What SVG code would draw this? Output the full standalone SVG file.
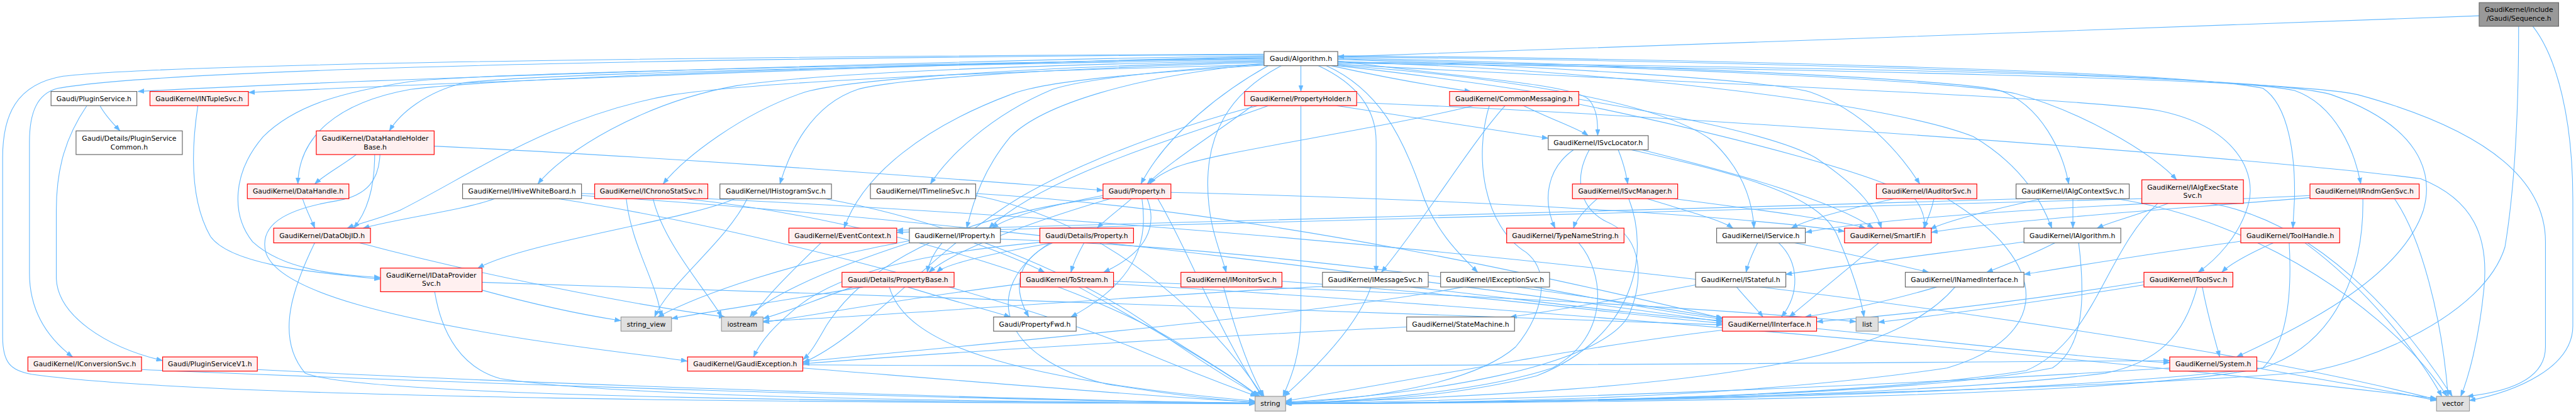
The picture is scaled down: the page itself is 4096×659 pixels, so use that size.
<svg xmlns="http://www.w3.org/2000/svg" width="4096" height="659" viewBox="0 0 4096 659">
<defs>
<marker id="arr" markerUnits="userSpaceOnUse" viewBox="0 0 12 9" markerWidth="12" markerHeight="9" refX="12" refY="4.5" orient="auto"><path d="M0,0 L12,4.5 L0,9 z" fill="#63b8ff" stroke="#63b8ff" stroke-width="0.5"/></marker>
<style>
.w rect{fill:#ffffff;stroke:#666666;stroke-width:1.4}
.r rect{fill:#fff0f0;stroke:#ff0000;stroke-width:1.4}
.g rect{fill:#e0e0e0;stroke:#999999;stroke-width:1.4}
.root rect{fill:#999999;stroke:#666666;stroke-width:1.4}
text{font-family:"DejaVu Sans","Liberation Sans",sans-serif;font-size:13px;text-anchor:middle;fill:#000000}
#edges path{fill:none;stroke:#63b8ff;stroke-width:1.3;marker-end:url(#arr)}
</style>
</defs>
<rect x="0" y="0" width="4096" height="659" fill="#ffffff"/>
<g transform="scale(0.83677)">
<g id="edges">
<path d="M4711,30 C4200,50 3200,85 2542,108"/>
<path d="M4813,50 C4860,110 4889,230 4889,380 L4889,620 C4889,700 4780,745 4692,762"/>
<path d="M4786,50 C4786,200 4780,350 4760,470 C4720,600 4500,690 4380,708 C4000,740 3000,766 2443,768"/>
<path d="M2402,106 C1800,115 700,150 262,174"/>
<path d="M2402,108 C1900,118 900,155 472,176"/>
<path d="M2402,104 C1600,108 350,125 110,168 C70,178 56,215 56,270 L56,520 C56,600 100,650 138,679"/>
<path d="M2402,103 C1600,106 350,118 120,145 C30,160 5,220 5,300 L5,640 C5,690 20,705 60,712 C400,760 1600,766 2385,768"/>
<path d="M2402,110 C1700,122 950,148 780,170 C640,195 568,260 566,350"/>
<path d="M2402,113 C1700,125 1000,140 880,158 C810,175 760,215 740,249"/>
<path d="M2402,123 C1900,135 1450,155 1280,180 C1050,220 900,330 760,400 C710,420 680,425 660,434"/>
<path d="M2402,111 C1700,122 900,140 780,155 C650,175 560,200 500,260 C440,330 440,410 480,460 C540,515 640,522 723,528"/>
<path d="M2402,115 C1900,125 1550,140 1400,163 C1220,195 1070,290 1022,350"/>
<path d="M2402,117 C1950,128 1620,150 1530,175 C1410,215 1300,300 1260,350"/>
<path d="M2402,119 C2000,130 1700,150 1630,170 C1540,200 1500,290 1482,350"/>
<path d="M2402,121 C2200,135 2060,150 2000,170 C1880,220 1800,300 1768,350"/>
<path d="M2402,124 C2150,140 1980,155 1920,180 C1760,240 1640,330 1604,434"/>
<path d="M2410,125 C2330,170 2220,250 2168,350"/>
<path d="M2435,125 C2330,180 2295,260 2295,350 C2295,430 2320,480 2330,518"/>
<path d="M2472,125 L2472,174"/>
<path d="M2530,125 C2620,145 2700,160 2795,174"/>
<path d="M2505,125 C2580,160 2615,210 2615,270 L2615,518"/>
<path d="M2520,125 C2620,170 2665,260 2700,360 C2725,440 2780,490 2808,518"/>
<path d="M2542,116 C2800,150 2990,160 3020,190 C3036,210 3036,235 3036,258"/>
<path d="M2542,113 C2900,125 3350,150 3440,175 C3540,210 3610,290 3648,350"/>
<path d="M2542,110 C3000,120 3700,148 3800,172 C3880,200 3920,290 3931,350"/>
<path d="M2542,112 C3000,123 3700,150 3830,178 C3950,210 4090,290 4136,342"/>
<path d="M2542,108 C3200,115 4200,140 4360,172 C4440,200 4475,290 4486,350"/>
<path d="M2542,106 C3200,112 4150,135 4300,168 C4350,200 4362,300 4360,380 L4357,434"/>
<path d="M2542,122 C3000,150 3900,180 4100,210 C4250,240 4290,330 4272,390 C4255,450 4210,495 4177,518"/>
<path d="M2542,118 C3300,125 4300,140 4430,180 C4600,240 4625,330 4605,400 C4565,520 4400,610 4250,679"/>
<path d="M2542,120 C3400,130 4350,150 4480,180 C4700,240 4837,330 4837,460 L4837,660 C4837,720 4770,745 4688,754"/>
<path d="M2542,124 C2900,150 3160,200 3250,265 C3310,320 3330,380 3333,434"/>
<path d="M2542,125 C2900,165 3350,240 3450,300 C3540,360 3565,400 3575,434"/>
<path d="M2542,117 C3100,135 3600,200 3750,260 C3850,320 3882,390 3899,434"/>
<path d="M2402,121 C2150,145 1980,200 1920,260 C1870,320 1850,380 1837,434"/>
<path d="M190,201 C200,220 215,235 228,249"/>
<path d="M165,201 C125,260 107,320 107,400 L107,530 C110,600 200,660 309,686"/>
<path d="M376,201 C364,280 360,380 400,450 C440,505 600,518 723,531"/>
<path d="M677,294 C650,315 620,330 598,350"/>
<path d="M712,294 C712,350 700,400 672,434"/>
<path d="M722,294 C720,340 700,372 640,382 C560,395 490,420 505,480 C530,560 780,610 1000,645 C1150,668 1250,678 1306,687"/>
<path d="M825,278 C1300,300 1800,340 2096,362"/>
<path d="M575,378 C582,400 592,418 598,434"/>
<path d="M598,462 C560,540 520,640 580,710 C700,758 1800,766 2385,766"/>
<path d="M683,462 C900,520 1200,580 1378,603"/>
<path d="M916,552 C1000,575 1100,598 1180,610"/>
<path d="M826,555 C840,640 880,700 950,720 C1200,760 2000,765 2385,767"/>
<path d="M916,537 C1600,560 2800,600 3273,618"/>
<path d="M1397,378 C1300,420 1000,460 908,510"/>
<path d="M1420,378 C1380,460 1270,540 1244,603"/>
<path d="M1567,378 C1800,420 2050,520 2200,630 C2300,700 2360,735 2395,754"/>
<path d="M1241,378 C1260,460 1340,550 1372,603"/>
<path d="M1300,378 C1700,420 2100,560 2250,660 C2330,710 2370,735 2390,754"/>
<path d="M1190,378 C1200,470 1250,540 1256,603"/>
<path d="M940,378 C880,400 760,415 690,434"/>
<path d="M1060,378 C1400,430 1900,560 2150,660 C2280,715 2350,740 2388,754"/>
<path d="M1105,372 C1900,420 2900,560 3273,612"/>
<path d="M1105,368 C2500,420 4000,600 4630,760"/>
<path d="M1560,462 C1500,520 1450,570 1430,603"/>
<path d="M1854,372 C2100,420 2300,600 2400,754"/>
<path d="M1854,368 C2400,400 3000,540 3275,606"/>
<path d="M2150,378 C2125,400 2100,418 2085,434"/>
<path d="M2110,378 C2000,410 1820,470 1765,518"/>
<path d="M2170,378 C2180,450 2170,530 2035,603"/>
<path d="M2180,378 C2200,430 2180,480 2097,518"/>
<path d="M2096,372 C2000,390 1920,410 1885,434"/>
<path d="M2096,376 C1750,420 1620,540 1570,620 C1550,655 1540,672 1526,684"/>
<path d="M2225,366 C2800,380 3300,410 3505,440"/>
<path d="M2200,378 C2260,480 2310,620 2398,754"/>
<path d="M2380,201 C2300,260 2220,310 2180,350"/>
<path d="M2410,201 C2250,260 1990,330 1879,434"/>
<path d="M2540,201 C2700,225 2850,250 2942,263"/>
<path d="M2472,201 L2472,600 C2472,680 2450,725 2438,754"/>
<path d="M2578,195 C3200,220 4300,300 4600,340 C4700,380 4730,450 4720,550 C4710,650 4690,720 4676,754"/>
<path d="M2390,201 C2200,250 2000,330 1900,400 C1750,500 1640,640 1526,690"/>
<path d="M2895,201 C2950,228 3000,245 3018,258"/>
<path d="M2860,201 C2790,280 2720,400 2625,518"/>
<path d="M3000,198 C3300,260 3600,340 3640,380 C3655,400 3658,420 3658,434"/>
<path d="M2830,201 C2800,300 2820,430 2900,480 C2950,520 2930,600 2880,660 C2800,730 2600,760 2443,766"/>
<path d="M2800,201 C2600,250 2300,290 2230,320 C2205,332 2192,340 2185,350"/>
<path d="M3075,285 C3085,310 3090,330 3093,350"/>
<path d="M2990,285 C2940,320 2930,380 2955,434"/>
<path d="M3020,285 C2990,340 3000,400 3060,425 C3120,455 3125,530 3095,600 C3040,700 2700,752 2443,765"/>
<path d="M3120,285 C3300,330 3480,380 3560,434"/>
<path d="M3100,285 C3300,330 3460,370 3492,450 C3518,510 3535,560 3542,603"/>
<path d="M3035,378 C3010,400 2995,418 2990,434"/>
<path d="M3095,378 C3135,480 3110,640 2920,715 C2750,758 2550,766 2443,767"/>
<path d="M3130,378 C3200,400 3270,418 3293,434"/>
<path d="M3180,378 C3350,400 3500,420 3545,434"/>
<path d="M3000,462 C3050,520 3060,640 2950,700 C2800,750 2550,764 2443,768"/>
<path d="M2605,546 C2580,620 2500,700 2440,754"/>
<path d="M2680,546 C2900,570 3100,598 3273,610"/>
<path d="M2513,545 C2200,560 1700,600 1450,611"/>
<path d="M2915,546 C3050,570 3150,592 3273,607"/>
<path d="M2780,546 C2500,600 1800,660 1526,688"/>
<path d="M2673,622 C2300,640 1800,670 1526,692"/>
<path d="M3300,546 C3320,570 3340,590 3350,603"/>
<path d="M3222,542 C3100,565 2950,592 2870,603"/>
<path d="M3340,462 C3330,482 3322,500 3318,518"/>
<path d="M3410,462 C3500,480 3610,505 3665,518"/>
<path d="M3380,462 C3420,500 3420,560 3385,603"/>
<path d="M3570,462 C3500,520 3440,570 3400,603"/>
<path d="M3905,462 C3850,490 3800,508 3775,518"/>
<path d="M3846,460 C3700,480 3500,505 3393,522"/>
<path d="M3950,462 C3962,560 3962,660 3900,700 C3600,760 2800,766 2443,768"/>
<path d="M3680,546 C3600,570 3500,592 3430,603"/>
<path d="M3715,546 C3600,680 3300,740 2443,767"/>
<path d="M3452,625 C3700,650 3950,680 4123,690"/>
<path d="M3273,628 C3000,660 2700,720 2443,763"/>
<path d="M3600,378 C3500,400 3430,420 3404,434"/>
<path d="M3675,378 C3670,400 3662,420 3655,434"/>
<path d="M3700,378 C3900,500 3900,640 3700,700 C3300,760 2800,766 2443,768"/>
<path d="M3939,378 L3939,434"/>
<path d="M3850,378 C3000,405 2000,425 1704,438"/>
<path d="M4020,378 C4300,420 4550,600 4650,754"/>
<path d="M3880,378 C3780,400 3700,420 3668,436"/>
<path d="M4120,387 C4060,410 4010,422 3985,434"/>
<path d="M4070,378 C3000,410 2000,428 1704,442"/>
<path d="M4100,387 C4000,480 3980,650 3850,705 C3500,760 2800,767 2443,768"/>
<path d="M4200,387 C4400,420 4560,600 4660,754"/>
<path d="M4389,372 C4000,390 3600,410 3431,442"/>
<path d="M4490,378 C4492,500 4450,650 4300,700 C3800,760 2800,766 2443,768"/>
<path d="M4550,378 C4600,450 4640,600 4652,754"/>
<path d="M4389,376 C4100,400 3800,420 3670,442"/>
<path d="M4320,462 C4280,480 4240,500 4222,518"/>
<path d="M4380,462 C4500,550 4600,680 4640,754"/>
<path d="M4350,462 C4355,550 4350,650 4300,700 C4000,760 3000,766 2443,768"/>
<path d="M4258,459 C4100,480 3950,505 3846,522"/>
<path d="M4185,546 C4195,600 4210,650 4218,679"/>
<path d="M4074,542 C3900,570 3700,598 3569,613"/>
<path d="M4175,546 C4150,640 4100,690 4000,710 C3600,760 2800,766 2443,768"/>
<path d="M4074,536 C3800,580 3600,600 3452,612"/>
<path d="M4289,700 C4400,720 4550,745 4630,762"/>
<path d="M4123,700 C3500,740 2800,762 2443,768"/>
<path d="M1525,700 C1900,730 2200,755 2385,765"/>
<path d="M1525,694 C2500,700 3500,690 4123,686"/>
<path d="M489,703 C1000,730 1900,760 2385,767"/>
<path d="M269,703 C900,730 1800,760 2385,767"/>
<path d="M1725,546 C1800,570 1880,590 1920,603"/>
<path d="M1690,546 C1720,650 1900,720 2385,763"/>
<path d="M1640,546 C1500,570 1350,592 1276,606"/>
<path d="M1620,546 C1550,570 1500,592 1450,606"/>
<path d="M2000,462 C1900,480 1800,500 1780,518"/>
<path d="M2060,462 C2050,480 2040,500 2035,518"/>
<path d="M2000,462 C1920,500 1930,560 1955,603"/>
<path d="M1995,462 C1860,550 1900,680 2100,730 C2250,755 2330,762 2385,765"/>
<path d="M1990,460 C1750,480 1600,520 1520,580 C1470,620 1445,650 1432,679"/>
<path d="M2050,546 C2200,630 2350,720 2392,754"/>
<path d="M1939,540 C1700,570 1550,600 1450,613"/>
<path d="M2116,540 C2800,580 3800,660 4630,758"/>
<path d="M2116,535 C2800,560 3300,590 3527,612"/>
<path d="M1790,462 C1775,480 1765,500 1762,518"/>
<path d="M1850,462 C1900,480 1950,500 1985,518"/>
<path d="M1901,455 C2400,470 3000,560 3273,605"/>
<path d="M1728,458 C1500,500 1330,560 1250,603"/>
<path d="M1728,462 C1550,520 1450,570 1425,603"/>
<path d="M2325,546 C2345,620 2370,700 2402,754"/>
<path d="M2436,535 C2800,560 3100,600 3273,615"/>
</g>
<g id="n_seq" class="root"><rect x="4711" y="5" width="151" height="45"/><text x="4786.5" y="23">GaudiKernel/include</text><text x="4786.5" y="40">/Gaudi/Sequence.h</text></g>
<g id="n_algorithm" class="w"><rect x="2402" y="98" width="140" height="27"/><text x="2472" y="116">Gaudi/Algorithm.h</text></g>
<g id="n_pluginservice" class="w"><rect x="97" y="174" width="163" height="27"/><text x="178.5" y="192">Gaudi/PluginService.h</text></g>
<g id="n_ntuplesvc" class="r"><rect x="285" y="174" width="187" height="27"/><text x="378.5" y="192">GaudiKernel/INTupleSvc.h</text></g>
<g id="n_pscommon" class="w"><rect x="144.5" y="249" width="202" height="45"/><text x="245.5" y="268">Gaudi/Details/PluginService</text><text x="245.5" y="284">Common.h</text></g>
<g id="n_dhhb" class="r"><rect x="601" y="249" width="224" height="45"/><text x="713" y="268">GaudiKernel/DataHandleHolder</text><text x="713" y="284">Base.h</text></g>
<g id="n_datahandle" class="r"><rect x="470" y="350" width="193" height="28"/><text x="566.5" y="368.5">GaudiKernel/DataHandle.h</text></g>
<g id="n_dataobjid" class="r"><rect x="520" y="434" width="184" height="28"/><text x="612" y="452.5">GaudiKernel/DataObjID.h</text></g>
<g id="n_dataprovider" class="r"><rect x="723" y="510" width="193" height="45"/><text x="819.5" y="528">GaudiKernel/IDataProvider</text><text x="819.5" y="544">Svc.h</text></g>
<g id="n_conversionsvc" class="r"><rect x="53" y="679" width="216" height="27"/><text x="161" y="697">GaudiKernel/IConversionSvc.h</text></g>
<g id="n_psv1" class="r"><rect x="309" y="679" width="180" height="27"/><text x="399" y="697">Gaudi/PluginServiceV1.h</text></g>
<g id="n_hivewb" class="w"><rect x="879" y="350" width="226" height="28"/><text x="992" y="368.5">GaudiKernel/IHiveWhiteBoard.h</text></g>
<g id="n_chronostat" class="r"><rect x="1130" y="350" width="215" height="28"/><text x="1237.5" y="368.5">GaudiKernel/IChronoStatSvc.h</text></g>
<g id="n_histogram" class="w"><rect x="1368" y="350" width="212" height="28"/><text x="1474" y="368.5">GaudiKernel/IHistogramSvc.h</text></g>
<g id="n_string_view" class="g"><rect x="1180" y="603" width="96" height="27"/><text x="1228" y="621">string_view</text></g>
<g id="n_iostream" class="g"><rect x="1371" y="603" width="79" height="27"/><text x="1410.5" y="621">iostream</text></g>
<g id="n_gaudiexception" class="r"><rect x="1306.5" y="679" width="219" height="27"/><text x="1416" y="697">GaudiKernel/GaudiException.h</text></g>
<g id="n_eventcontext" class="r"><rect x="1499" y="434" width="205" height="28"/><text x="1601.5" y="452.5">GaudiKernel/EventContext.h</text></g>
<g id="n_propertybase" class="r"><rect x="1600" y="518" width="213" height="28"/><text x="1706.5" y="536.5">Gaudi/Details/PropertyBase.h</text></g>
<g id="n_timeline" class="w"><rect x="1654" y="350" width="200" height="28"/><text x="1754" y="368.5">GaudiKernel/ITimelineSvc.h</text></g>
<g id="n_property" class="r"><rect x="2096" y="350" width="129" height="28"/><text x="2160.5" y="368.5">Gaudi/Property.h</text></g>
<g id="n_propertyholder" class="r"><rect x="2365" y="174" width="213" height="27"/><text x="2471.5" y="192">GaudiKernel/PropertyHolder.h</text></g>
<g id="n_iproperty" class="w"><rect x="1728" y="434" width="173" height="28"/><text x="1814.5" y="452.5">GaudiKernel/IProperty.h</text></g>
<g id="n_detprop" class="r"><rect x="1976" y="434" width="178" height="28"/><text x="2065" y="452.5">Gaudi/Details/Property.h</text></g>
<g id="n_tostream" class="r"><rect x="1939" y="518" width="177" height="28"/><text x="2027.5" y="536.5">GaudiKernel/ToStream.h</text></g>
<g id="n_monitorsvc" class="r"><rect x="2244" y="518" width="192" height="28"/><text x="2340" y="536.5">GaudiKernel/IMonitorSvc.h</text></g>
<g id="n_propertyfwd" class="w"><rect x="1888" y="603" width="157" height="27"/><text x="1966.5" y="621">Gaudi/PropertyFwd.h</text></g>
<g id="n_string" class="g"><rect x="2385" y="754" width="58" height="28"/><text x="2414" y="772.5">string</text></g>
<g id="n_commonmsg" class="r"><rect x="2754.5" y="174" width="245.5" height="27"/><text x="2877" y="192">GaudiKernel/CommonMessaging.h</text></g>
<g id="n_svclocator" class="w"><rect x="2942" y="258" width="190" height="27"/><text x="3037" y="276">GaudiKernel/ISvcLocator.h</text></g>
<g id="n_svcmanager" class="r"><rect x="2988" y="350" width="200" height="28"/><text x="3088" y="368.5">GaudiKernel/ISvcManager.h</text></g>
<g id="n_typename" class="r"><rect x="2863" y="434" width="223" height="28"/><text x="2974.5" y="452.5">GaudiKernel/TypeNameString.h</text></g>
<g id="n_messagesvc" class="w"><rect x="2513" y="518" width="201" height="28"/><text x="2613.5" y="536.5">GaudiKernel/IMessageSvc.h</text></g>
<g id="n_exceptionsvc" class="w"><rect x="2737.5" y="518" width="207" height="28"/><text x="2841" y="536.5">GaudiKernel/IExceptionSvc.h</text></g>
<g id="n_statemachine" class="w"><rect x="2673" y="603" width="205" height="27"/><text x="2775.5" y="621">GaudiKernel/StateMachine.h</text></g>
<g id="n_istateful" class="w"><rect x="3222" y="518" width="171.5" height="28"/><text x="3307.75" y="536.5">GaudiKernel/IStateful.h</text></g>
<g id="n_auditorsvc" class="r"><rect x="3565.5" y="350" width="191" height="28"/><text x="3661" y="368.5">GaudiKernel/IAuditorSvc.h</text></g>
<g id="n_algcontext" class="w"><rect x="3831" y="350" width="215" height="28"/><text x="3938.5" y="368.5">GaudiKernel/IAlgContextSvc.h</text></g>
<g id="n_algexecstate" class="r"><rect x="4070" y="342" width="193" height="45"/><text x="4166.5" y="360.5">GaudiKernel/IAlgExecState</text><text x="4166.5" y="377">Svc.h</text></g>
<g id="n_rndmgen" class="r"><rect x="4389.5" y="350" width="207.5" height="28"/><text x="4493" y="368.5">GaudiKernel/IRndmGenSvc.h</text></g>
<g id="n_iservice" class="w"><rect x="3262" y="434" width="168.5" height="28"/><text x="3346" y="452.5">GaudiKernel/IService.h</text></g>
<g id="n_smartif" class="r"><rect x="3505" y="434" width="165" height="28"/><text x="3587.5" y="452.5">GaudiKernel/SmartIF.h</text></g>
<g id="n_ialgorithm" class="w"><rect x="3846" y="434" width="184" height="28"/><text x="3938" y="452.5">GaudiKernel/IAlgorithm.h</text></g>
<g id="n_namedinterface" class="w"><rect x="3620.5" y="518" width="225.5" height="28"/><text x="3733" y="536.5">GaudiKernel/INamedInterface.h</text></g>
<g id="n_iinterface" class="r"><rect x="3273" y="603" width="179" height="27"/><text x="3362.5" y="621">GaudiKernel/IInterface.h</text></g>
<g id="n_list" class="g"><rect x="3527" y="603" width="42" height="27"/><text x="3548" y="621">list</text></g>
<g id="n_toolhandle" class="r"><rect x="4258" y="434" width="188" height="28"/><text x="4352" y="452.5">GaudiKernel/ToolHandle.h</text></g>
<g id="n_toolsvc" class="r"><rect x="4074" y="518" width="169" height="28"/><text x="4158.5" y="536.5">GaudiKernel/IToolSvc.h</text></g>
<g id="n_system" class="r"><rect x="4123" y="679" width="165.5" height="27"/><text x="4205.75" y="697">GaudiKernel/System.h</text></g>
<g id="n_vector" class="g"><rect x="4630" y="754" width="62.5" height="28"/><text x="4661" y="772.5">vector</text></g>
</g>
</svg>
